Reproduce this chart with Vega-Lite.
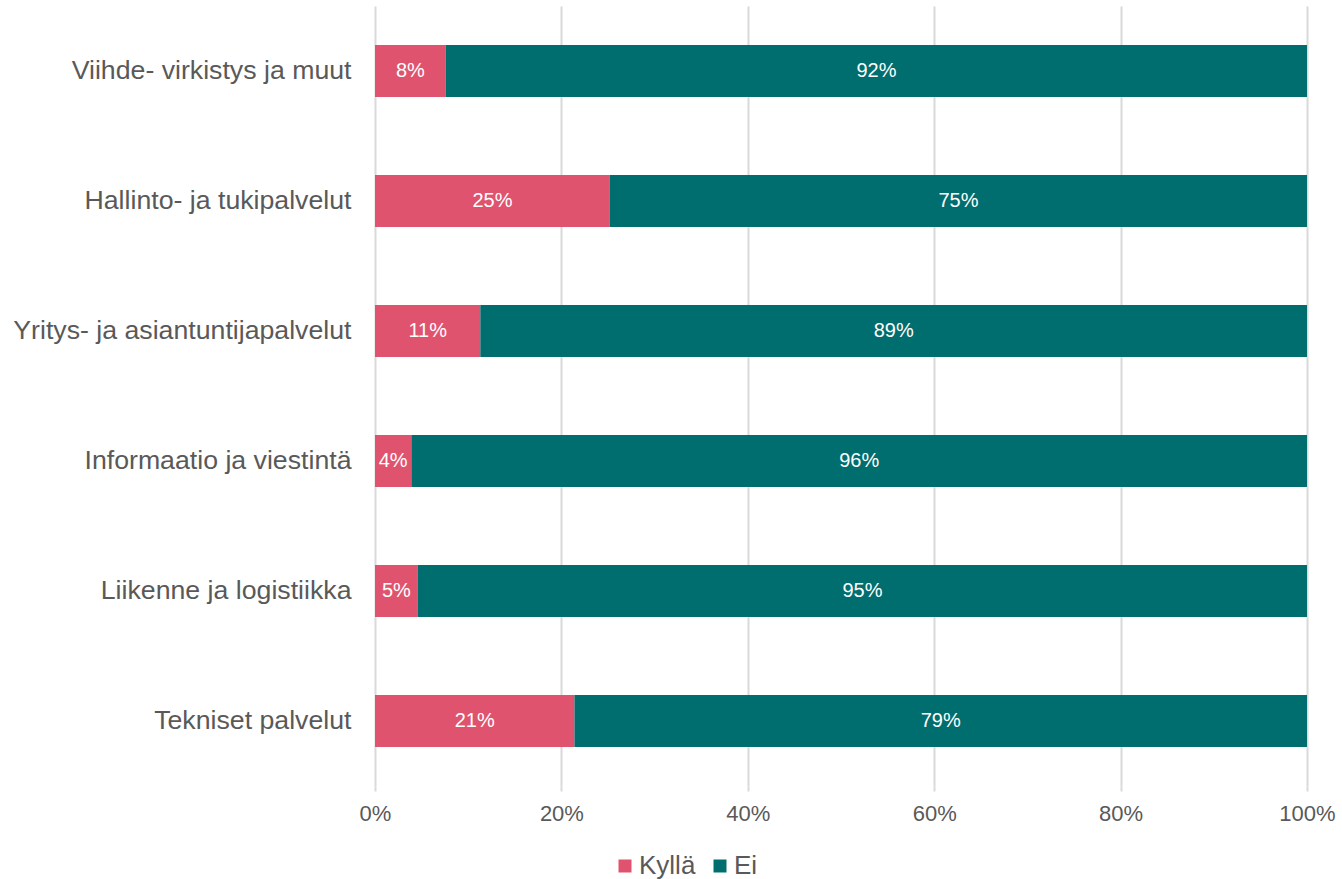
{
  "$schema": "https://vega.github.io/schema/vega-lite/v6.json",
  "width": 932,
  "height": 780,
  "autosize": {"type": "none"},
  "padding": {"left": 375, "top": 6, "right": 35, "bottom": 93},
  "background": "white",
  "config": {
    "view": {"stroke": null},
    "font": "Liberation Sans"
  },
  "data": {
    "values": [
      {"ala": "Viihde- virkistys ja muut", "vastaus": "Kyllä", "osuus": 0.076},
      {"ala": "Viihde- virkistys ja muut", "vastaus": "Ei", "osuus": 0.924},
      {"ala": "Hallinto- ja tukipalvelut", "vastaus": "Kyllä", "osuus": 0.252},
      {"ala": "Hallinto- ja tukipalvelut", "vastaus": "Ei", "osuus": 0.748},
      {"ala": "Yritys- ja asiantuntijapalvelut", "vastaus": "Kyllä", "osuus": 0.113},
      {"ala": "Yritys- ja asiantuntijapalvelut", "vastaus": "Ei", "osuus": 0.887},
      {"ala": "Informaatio ja viestintä", "vastaus": "Kyllä", "osuus": 0.039},
      {"ala": "Informaatio ja viestintä", "vastaus": "Ei", "osuus": 0.961},
      {"ala": "Liikenne ja logistiikka", "vastaus": "Kyllä", "osuus": 0.046},
      {"ala": "Liikenne ja logistiikka", "vastaus": "Ei", "osuus": 0.954},
      {"ala": "Tekniset palvelut", "vastaus": "Kyllä", "osuus": 0.214},
      {"ala": "Tekniset palvelut", "vastaus": "Ei", "osuus": 0.786}
    ]
  },
  "encoding": {
    "y": {
      "field": "ala",
      "type": "nominal",
      "sort": null,
      "title": null,
      "scale": {"paddingInner": 0.6, "paddingOuter": 0.3},
      "axis": {
        "domain": false,
        "ticks": false,
        "labelPadding": 24,
        "labelFontSize": 26.7,
        "labelColor": "#595959",
        "labelFont": "Liberation Sans",
        "labelLimit": 500
      }
    },
    "x": {
      "field": "osuus",
      "type": "quantitative",
      "stack": "zero",
      "title": null,
      "scale": {"domain": [0, 1], "nice": false},
      "axis": {
        "format": ".0%",
        "values": [0, 0.2, 0.4, 0.6, 0.8, 1],
        "domain": false,
        "grid": true,
        "gridColor": "#d9d9d9",
        "gridWidth": 2,
        "ticks": true,
        "tickSize": 5,
        "tickColor": "#d9d9d9",
        "tickWidth": 2,
        "labelFlush": false,
        "labelPadding": 12,
        "labelFontSize": 22,
        "labelColor": "#595959",
        "labelFont": "Liberation Sans"
      }
    },
    "order": {"field": "vastaus", "sort": "descending"}
  },
  "layer": [
    {
      "mark": {"type": "bar"},
      "encoding": {
        "color": {
          "field": "vastaus",
          "type": "nominal",
          "sort": ["Kyllä", "Ei"],
          "scale": {"domain": ["Kyllä", "Ei"], "range": ["#E0536E", "#006D6E"]},
          "legend": {
            "title": null,
            "orient": "none",
            "direction": "horizontal",
            "legendX": 237,
            "legendY": 847,
            "padding": 0,
            "symbolType": "square",
            "symbolSize": 169,
            "symbolStrokeWidth": 0,
            "labelFontSize": 26,
            "labelColor": "#595959",
            "labelFont": "Liberation Sans",
            "labelOffset": 1,
            "columnPadding": 11
          }
        }
      }
    },
    {
      "mark": {"type": "text", "color": "white", "fontSize": 20, "font": "Liberation Sans", "align": "center", "baseline": "middle"},
      "encoding": {
        "x": {"field": "osuus", "type": "quantitative", "stack": "zero", "bandPosition": 0.5},
        "detail": {"field": "vastaus", "type": "nominal"},
        "text": {"field": "osuus", "type": "quantitative", "format": ".0%"}
      }
    }
  ]
}
